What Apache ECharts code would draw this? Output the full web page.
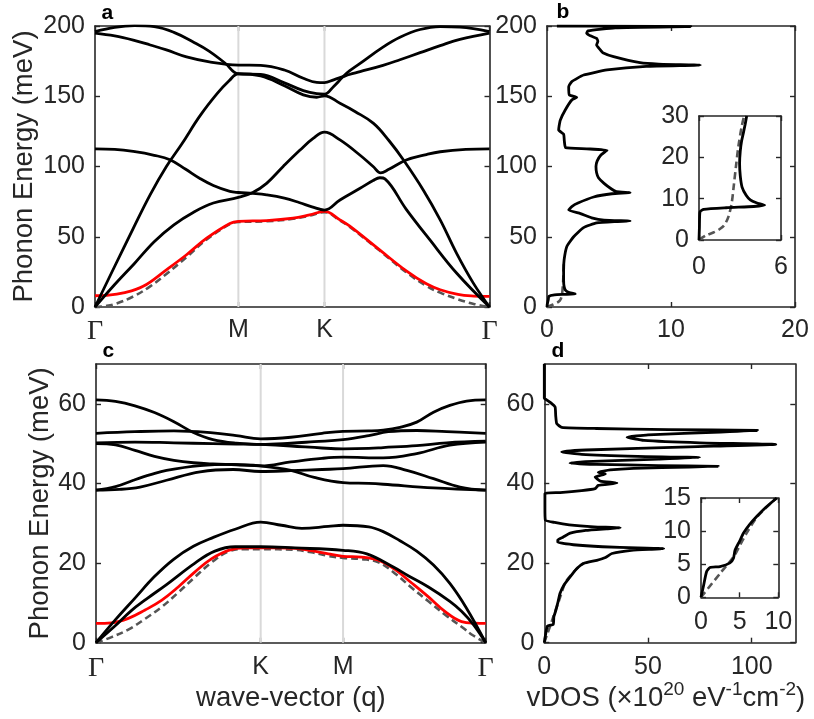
<!DOCTYPE html>
<html><head><meta charset="utf-8">
<script src="https://cdn.jsdelivr.net/npm/echarts@6/dist/echarts.min.js"></script>
<style>html,body{margin:0;padding:0;background:#fff}#c{width:814px;height:719px}</style>
</head><body><div id="c"></div>
<script>
// ---------- tick positions / labels ----------
const aTicksX = [0, 0.3634, 0.5817, 1];
const aLabelsX = ['Γ', 'M', 'K', 'Γ'];
const cTicksX = [0, 0.4226, 0.6340, 1];
const cLabelsX = ['Γ', 'K', 'M', 'Γ'];
const aTicksY = [0, 50, 100, 150, 200];
const bTicksX = [0, 10, 20];
const ibTicksX = [0, 6];
const ibTicksY = [0, 10, 20, 30];
const cTicksY = [0, 20, 40, 60];
const dTicksX = [0, 50, 100];
const idTicksX = [0, 5, 10];
const idTicksY = [0, 5, 10, 15];
const aRangeY = [0, 200];
const cRangeY = [0, 70];
const bRangeX = [0, 20];
const dRangeX = [0, 121];
const ibRangeX = [0, 6];
const ibRangeY = [0, 30];
const idRangeX = [0, 10];
const idRangeY = [0, 15];
const panelLetters = ['a', 'b', 'c', 'd'];

// ---------- panel a : dispersion (q, meV) ----------
const aZA = [[0,8.0],[0.03,8.3],[0.072,10],[0.122,14.7],[0.181,26.5],[0.232,37.2],[0.283,49],[0.342,59.5],[0.3634,61],[0.435,61.5],[0.502,63.2],[0.544,65.6],[0.5817,68],[0.621,62],[0.646,57.5],[0.72,41],[0.79,25.5],[0.84,16.5],[0.875,12.3],[0.92,9],[0.96,7.8],[1,7.5]];
const aFit = [[0,0],[0.03,0.8],[0.055,2.5],[0.097,7.5],[0.139,14.5],[0.181,23.5],[0.232,35.5],[0.283,48],[0.342,59],[0.3634,60.5],[0.435,61],[0.502,62.8],[0.544,65],[0.5817,67.5],[0.621,61.5],[0.646,57],[0.72,40.5],[0.79,24.5],[0.84,15],[0.875,10.2],[0.92,5.5],[0.96,2.2],[1,0]];
const aBand1 = [[0,0],[0.05,16],[0.1,31],[0.15,46.5],[0.2,58.5],[0.25,67.5],[0.3,74],[0.3634,78],[0.40,81.5],[0.435,88],[0.477,100],[0.519,111.5],[0.553,120],[0.5817,124.4],[0.621,118.9],[0.672,108],[0.705,100],[0.724,95.5],[0.745,98],[0.789,104.6],[0.84,108.5],[0.875,110.5],[0.94,112.2],[1,112.6]];
const aBand2 = [[0,112.6],[0.05,112.2],[0.097,110.7],[0.15,108],[0.19,104.8],[0.23,98],[0.266,91.5],[0.3,86.5],[0.342,82.3],[0.3634,81.5],[0.40,80.8],[0.435,79.8],[0.48,77.5],[0.519,74.2],[0.55,71.3],[0.5817,69],[0.621,76.2],[0.672,84.5],[0.705,90],[0.722,92],[0.735,91.2],[0.789,69.5],[0.849,47.7],[0.917,24],[1,0]];
const aLA = [[0,0],[0.05,29],[0.097,56],[0.14,80],[0.181,100],[0.22,116],[0.266,136],[0.31,152],[0.34,161],[0.3634,166],[0.42,164.5],[0.48,157.5],[0.528,151],[0.562,149.3],[0.5817,150.3],[0.621,145],[0.66,139],[0.706,130.7],[0.745,118.5],[0.782,104.6],[0.832,83.3],[0.875,62],[0.917,38],[0.959,17],[1,0]];
const aLO = [[0,196],[0.05,199],[0.1,200.2],[0.15,199.5],[0.2,195.5],[0.25,188.5],[0.29,182],[0.33,173.5],[0.3634,166],[0.42,165.5],[0.48,159.5],[0.528,154],[0.562,151.8],[0.5817,151.5],[0.605,157],[0.629,164],[0.645,168],[0.672,173.4],[0.73,185],[0.773,192],[0.824,197.5],[0.875,199.6],[0.925,199.2],[1,196]];
const aTO = [[0,195],[0.05,193],[0.097,190],[0.14,186.5],[0.181,183],[0.232,178],[0.29,174.5],[0.3634,172.2],[0.42,172],[0.48,168.7],[0.528,162.8],[0.562,159.9],[0.5817,159.7],[0.605,161.7],[0.629,164],[0.645,165.5],[0.672,167.5],[0.73,172],[0.773,176],[0.824,181],[0.875,186],[0.925,190.5],[1,195]];

// ---------- panel b : vDOS (dos, meV) ----------
const bDOS = [[0,0],[0.02,2],[0.1,5],[0.15,7.6],[0.6,8.7],[1.4,9.0],[2.28,9.3],[1.8,10.2],[1.5,11.8],[1.38,14.5],[1.34,19],[1.34,26],[1.38,33.5],[1.6,43],[2.15,50],[2.95,56.5],[4.0,59.8],[5.5,60.8],[6.7,61.2],[4.6,61.8],[3.6,63.5],[2.7,66.5],[1.75,69],[2.0,71.5],[2.5,74],[3.76,78.3],[5.24,80.6],[6.7,81.4],[5.6,82.1],[5.2,84],[4.6,88],[4.15,92],[4.0,95.5],[3.95,100],[4.05,104],[4.35,108.2],[4.84,111.5],[3.2,112.6],[1.5,113.4],[1.4,118],[1.34,123],[0.94,126],[0.98,129],[1.07,133],[1.47,140.2],[2.0,147.3],[2.4,149.2],[1.8,151],[1.75,156.8],[2.0,160.4],[2.95,165.1],[4.84,168.7],[8,171.3],[12.36,172.2],[9,172.9],[7.5,173.9],[5.37,178.2],[4.5,181],[4.3,183],[4.0,186.5],[4.1,189],[4.0,191.2],[3.5,193],[3.2,194.8],[3.3,196.5],[5.5,198.7],[11.6,199.6],[0.8,200]];
const bFit = [[0,0],[0.5,1.8],[0.94,3.8],[1.1,5.5],[1.2,8.5],[1.25,12],[1.3,18],[1.33,25],[1.36,32]];
const ibDOS = [[0,0],[0.03,3],[0.07,6.8],[0.35,7.4],[2.0,7.8],[4.0,8.1],[4.8,8.4],[4.2,9.0],[3.75,9.7],[3.45,10.8],[3.15,12.8],[3.02,15.5],[2.97,18.5],[3.02,21.5],[3.12,24],[3.24,25.8],[3.38,28],[3.49,30]];
const ibFit = [[0,0],[0.56,1.2],[1.05,1.8],[1.5,2.6],[1.85,3.6],[2.15,5.6],[2.39,8.9],[2.51,12.1],[2.7,17.7],[2.88,22.6],[3.12,27.4],[3.3,30]];

// ---------- panel c : dispersion (q, meV) ----------
const cZA = [[0,4.85],[0.04,5.0],[0.083,6.1],[0.126,8.2],[0.169,10.7],[0.211,14.0],[0.254,17.8],[0.297,21.1],[0.34,23.2],[0.382,23.8],[0.4226,23.8],[0.468,23.8],[0.511,23.7],[0.553,23.1],[0.596,22.3],[0.634,21.7],[0.682,21.5],[0.725,20.7],[0.767,18.4],[0.81,15.0],[0.853,11.5],[0.896,7.8],[0.938,5.3],[0.973,4.9],[1,4.85]];
const cFit = [[0,0],[0.04,1.4],[0.083,3.3],[0.126,6.0],[0.169,9.0],[0.211,12.6],[0.254,16.5],[0.297,20.2],[0.34,22.9],[0.382,23.5],[0.4226,23.5],[0.511,23.3],[0.553,22.7],[0.596,21.8],[0.634,21.3],[0.682,21.0],[0.725,20.2],[0.767,17.4],[0.81,13.8],[0.853,10.4],[0.896,7.0],[0.938,4.0],[0.968,1.8],[1,0]];
const cTA = [[0,0],[0.05,4.3],[0.09,8.0],[0.13,11.0],[0.181,14.6],[0.254,20.0],[0.305,23.0],[0.357,24.1],[0.4226,24.1],[0.511,23.8],[0.634,23.2],[0.695,22.3],[0.763,19.0],[0.8,16.9],[0.853,14.0],[0.908,10.4],[0.938,7.9],[0.968,4.6],[1,0]];
const cLA = [[0,0],[0.05,5.8],[0.1,11.2],[0.15,16.6],[0.2,21.0],[0.25,24.2],[0.3,26.4],[0.357,28.5],[0.4226,30.3],[0.476,29.5],[0.528,28.7],[0.596,29.2],[0.634,29.5],[0.7,29.1],[0.737,27.9],[0.78,25.6],[0.823,23.0],[0.866,19.5],[0.908,14.9],[0.95,8.8],[1,0]];
const cO1 = [[0,61.0],[0.05,60.6],[0.1,59.5],[0.15,57.8],[0.2,55.5],[0.25,52.8],[0.3,51.0],[0.36,50.1],[0.4226,49.8],[0.5,49.4],[0.58,48.9],[0.634,48.7],[0.7,48.8],[0.737,49.0],[0.823,49.5],[0.9,50.2],[1,50.6]];
const cO2 = [[0,52.6],[0.1,53.0],[0.2,53.2],[0.3,52.7],[0.36,52.0],[0.4226,51.2],[0.5,51.6],[0.58,52.6],[0.634,53.1],[0.7,53.2],[0.737,53.4],[0.78,54.1],[0.823,55.4],[0.866,57.9],[0.908,59.6],[0.951,60.7],[1,61.0]];
const cO3 = [[0,50.2],[0.1,50.4],[0.2,50.2],[0.3,50.0],[0.36,49.9],[0.4226,49.8],[0.5,50.1],[0.56,50.5],[0.634,51.0],[0.7,52.0],[0.75,53.0],[0.823,53.3],[0.9,53.0],[1,52.6]];
const cO4 = [[0,50.0],[0.05,49.7],[0.1,48.3],[0.15,46.8],[0.2,45.8],[0.25,45.2],[0.3,44.9],[0.36,44.7],[0.4226,44.4],[0.5,43.3],[0.56,41.5],[0.634,40.2],[0.7,40.0],[0.737,39.8],[0.866,38.9],[1,38.3]];
const cO5 = [[0,38.3],[0.05,39.2],[0.096,40.8],[0.14,42.2],[0.181,43.3],[0.267,44.5],[0.35,44.8],[0.4226,44.4],[0.5,45.4],[0.58,46.3],[0.634,46.6],[0.737,46.4],[0.823,47.5],[0.908,49.6],[1,50.4]];
const cO6 = [[0,38.3],[0.06,38.5],[0.113,39.1],[0.181,40.8],[0.267,42.9],[0.352,43.5],[0.4226,43.0],[0.5,43.2],[0.58,43.5],[0.634,43.7],[0.737,44.5],[0.8,43.2],[0.866,41.2],[0.934,39.1],[1,38.3]];

// ---------- panel d : vDOS (dos, meV) ----------
const dDOS = [[0,0],[0.6,2],[1.5,4.2],[4.3,4.6],[4.6,6.5],[5.5,8],[6.5,10],[7.6,12.4],[9.5,14.5],[12.4,16.5],[15.5,18.5],[18.9,19.9],[25.3,20.7],[29.5,21.4],[32.6,22.4],[42,23.2],[54,23.5],[57.6,23.65],[45,23.8],[28,24.1],[14,24.6],[6.5,25.2],[6.5,25.8],[9,26.5],[12.5,27.5],[20,28.2],[30,28.6],[36.6,28.85],[24,29.1],[12,29.6],[5,30.2],[0.5,30.8],[0.3,34],[0.3,37.5],[7.6,37.7],[18,38.2],[24.5,38.7],[26,39.5],[35,40.1],[27,40.6],[24.5,41.6],[29.4,42.4],[26,42.8],[31.8,43.4],[43,43.8],[70,44.1],[83.9,44.3],[55,44.5],[25,44.8],[12.4,45.1],[20,45.5],[55,46.1],[74.8,46.5],[45,46.8],[18,47.3],[8.4,47.9],[20,48.4],[70,49.2],[111.6,49.8],[75,50.2],[48,50.8],[39.9,51.6],[50,52.2],[85,52.9],[102.8,53.3],[60,53.5],[25,53.8],[8.4,54.1],[6.0,55.0],[5.5,57],[5.2,59.2],[3,60.3],[1.1,61.0],[0,61.4],[0,70]];
const dFit = [[0,0],[1.3,2],[2.7,4],[4.0,6],[5.3,8],[6.7,10],[8.0,12],[10,15],[12.4,16.7],[16,18.8],[19,20]];
const idDOS = [[0,0],[0.3,1.6],[0.73,3.9],[1.16,4.5],[2.46,4.65],[3.75,5.2],[4.2,5.9],[4.4,7.1],[5.0,8.5],[5.5,9.7],[6.3,11],[7.2,12.2],[8.4,13.6],[9.8,15]];
const idFit = [[0,0],[2.46,3.6],[4.2,6.1],[5.1,8],[5.9,9.7],[7.3,12.2],[9.8,15]];

// ---------- styling ----------
const FONT = "'Liberation Sans', Arial, Helvetica, sans-serif";
const SERIF = "'Liberation Serif', 'Times New Roman', serif";
const AX = '#262626';

const grids = [
  {left: 95, top: 26, width: 394.5, height: 281},     // a
  {left: 547, top: 26, width: 248, height: 281},      // b
  {left: 699, top: 116, width: 82, height: 124},      // b inset
  {left: 96, top: 364, width: 389.7, height: 278.7},  // c
  {left: 544.3, top: 364, width: 251, height: 278.7}, // d
  {left: 701, top: 498, width: 77.3, height: 99.3}    // d inset
].map(g => Object.assign({containLabel: false, outerBoundsMode: 'none'}, g));

function symFmt(ticks, labels) {
  return function (v) {
    let i = 0, best = 1e9;
    ticks.forEach((t, k) => { const d = Math.abs(t - v); if (d < best) { best = d; i = k; } });
    const s = labels[i];
    return s === 'Γ' ? '{g|Γ}' : s;
  };
}

function axis(gi, position, range, ticks, showLabel, fmt, margin, extra) {
  return Object.assign({
    type: 'value', gridIndex: gi, position: position, min: range[0], max: range[1],
    axisLine: {show: true, onZero: false, lineStyle: {color: AX, width: 1.6}},
    axisTick: {show: true, inside: true, length: 5, customValues: ticks, lineStyle: {color: AX, width: 1.4}},
    axisLabel: {show: showLabel, customValues: ticks, formatter: fmt, margin: margin,
      color: AX, fontSize: 25, fontFamily: FONT,
      rich: {g: {fontFamily: SERIF, fontSize: 28, color: AX}}},
    splitLine: {show: false}
  }, extra || {});
}

const xAxes = [], yAxes = [];
function addAxes(gi, xr, xt, xfmt, xmargin, yr, yt, xExtra, yExtra) {
  xAxes.push(axis(gi, 'bottom', xr, xt, true, xfmt, xmargin, xExtra));
  xAxes.push(axis(gi, 'top', xr, xt, false));
  yAxes.push(axis(gi, 'left', yr, yt, true, undefined, 10, yExtra));
  yAxes.push(axis(gi, 'right', yr, yt, false));
}
const nameStyle = {fontSize: 27.5, color: AX, fontFamily: FONT};
addAxes(0, [0, 1], aTicksX, symFmt(aTicksX, aLabelsX), 11, aRangeY, aTicksY, null,
  {name: 'Phonon Energy (meV)', nameLocation: 'middle', nameGap: 57, nameTextStyle: nameStyle});
addAxes(1, bRangeX, bTicksX, undefined, 11, aRangeY, aTicksY);
addAxes(2, ibRangeX, ibTicksX, undefined, 15, ibRangeY, ibTicksY);
addAxes(3, [0, 1], cTicksX, symFmt(cTicksX, cLabelsX), 12, cRangeY, cTicksY,
  {name: 'wave-vector (q)', nameLocation: 'middle', nameGap: 42, nameTextStyle: nameStyle},
  {name: 'Phonon Energy (meV)', nameLocation: 'middle', nameGap: 42, nameTextStyle: nameStyle});
addAxes(4, dRangeX, dTicksX, undefined, 12, cRangeY, cTicksY,
  {name: 'vDOS (×10{s|20} eV{s|-1}cm{s|-2})', nameLocation: 'middle', nameGap: 38,
   nameTextStyle: Object.assign({}, nameStyle, {lineHeight: 36, padding: [0, 8, 0, 0],
     rich: {s: {fontSize: 19, verticalAlign: 'top', color: AX, fontFamily: FONT}}})});
addAxes(5, idRangeX, idTicksX, undefined, 12.5, idRangeY, idTicksY);

function line(gi, data, color, width, dash, z, smooth) {
  return {type: 'line', xAxisIndex: 2 * gi, yAxisIndex: 2 * gi, data: data,
    showSymbol: false, symbol: 'none', smooth: smooth, z: z, silent: true, animation: false,
    lineStyle: {color: color, width: width, type: dash || 'solid', cap: 'butt', join: 'round'}};
}
const BLK = '#000', RED = '#ff0000', GRY = '#555555', VL = '#d9d9d9';
const DASH = [7, 4];
const series = [];
// gray vertical guide lines at the inner symmetry points
[aTicksX[1], aTicksX[2]].forEach(t => series.push(line(0, [[t, aRangeY[0]], [t, aRangeY[1]]], VL, 2, null, 1, false)));
[cTicksX[1], cTicksX[2]].forEach(t => series.push(line(3, [[t, cRangeY[0]], [t, cRangeY[1]]], VL, 2, null, 1, false)));
// panel a
series.push(line(0, aFit, GRY, 2.6, DASH, 2, 0.4));
series.push(line(0, aZA, RED, 2.8, null, 3, 0.4));
[aBand1, aBand2, aLA, aLO, aTO].forEach(d => series.push(line(0, d, BLK, 2.8, null, 4, 0.4)));
// panel b
series.push(line(1, bFit, GRY, 2.6, DASH, 2, 0.3));
series.push(line(1, bDOS, BLK, 2.8, null, 4, 0.15));
series.push(line(2, ibFit, GRY, 2.6, DASH, 2, 0.3));
series.push(line(2, ibDOS, BLK, 2.8, null, 4, 0.2));
// panel c
series.push(line(3, cFit, GRY, 2.6, DASH, 2, 0.4));
series.push(line(3, cZA, RED, 2.8, null, 3, 0.4));
[cTA, cLA, cO1, cO2, cO3, cO4, cO5, cO6].forEach(d => series.push(line(3, d, BLK, 2.8, null, 4, 0.4)));
// panel d
series.push(line(4, dFit, GRY, 2.6, DASH, 2, 0.3));
series.push(line(4, dDOS, BLK, 2.8, null, 4, 0.15));
series.push(line(5, idFit, GRY, 2.6, DASH, 2, 0.3));
series.push(line(5, idDOS, BLK, 2.8, null, 4, 0.2));

const letterPos = [[101.5, 13.3], [556.5, 12], [102.5, 351], [551.5, 351]];
const graphic = panelLetters.map((t, i) => ({
  type: 'text', x: letterPos[i][0], y: letterPos[i][1], silent: true,
  style: {text: t, fill: '#000', font: 'bold 21px ' + FONT, align: 'left', verticalAlign: 'middle'}
}));

const chart = echarts.init(document.getElementById('c'), null, {renderer: 'canvas'});
chart.setOption({
  animation: false,
  backgroundColor: '#ffffff',
  grid: grids,
  xAxis: xAxes,
  yAxis: yAxes,
  series: series,
  graphic: graphic
});
</script></body></html>
